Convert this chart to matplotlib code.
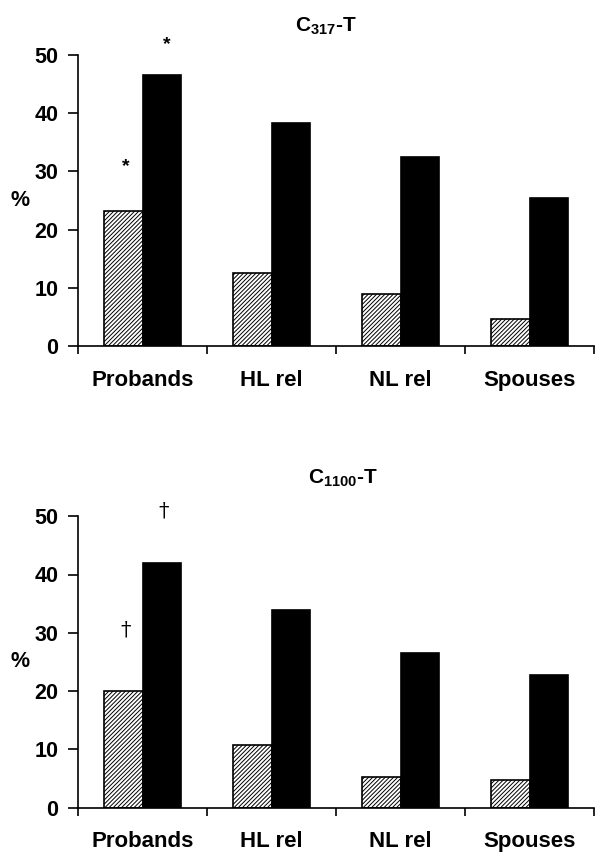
import numpy as np
import matplotlib
matplotlib.use("Agg")
import matplotlib.pyplot as plt

plt.rcParams["font.family"] = ["Liberation Sans", "DejaVu Sans"]
plt.rcParams["font.weight"] = "bold"
plt.rcParams["mathtext.fontset"] = "custom"
plt.rcParams["mathtext.rm"] = "Liberation Sans:bold"
plt.rcParams["mathtext.bf"] = "Liberation Sans:bold"
plt.rcParams["hatch.linewidth"] = 0.7

# ------- DATA ----------
groups = ["Probands", "HL rel", "NL rel", "Spouses"]
c317_hatched  = [23.2, 12.5, 8.9, 4.6]
c317_black    = [46.6, 38.4, 32.5, 25.5]
c1100_hatched = [20.1, 10.7, 5.2, 4.7]
c1100_black   = [41.9, 33.9, 26.5, 22.8]
titles = [r"C$_{317}$-T", r"C$_{1100}$-T"]
marks  = ["*", "\u2020"]

fig = plt.figure(figsize=(5.95, 8.52), dpi=100)
ax_top = fig.add_axes([78/595, 506/852, 516/595, 291/852])
ax_bot = fig.add_axes([78/595, 44.3/852, 516/595, 291.5/852])

x = np.arange(len(groups))
w = 0.295

# title position (axes fraction) per panel
title_pos = [(0.481, 1.10), (0.514, 1.13)]

panels = [(ax_top, c317_hatched, c317_black, titles[0], marks[0], title_pos[0]),
          (ax_bot, c1100_hatched, c1100_black, titles[1], marks[1], title_pos[1])]

for ax, hat, blk, title, mk, tpos in panels:
    ax.bar(x - w/2, hat, width=w, color="white", edgecolor="black",
           hatch="////////", linewidth=1.2)
    ax.bar(x + w/2, blk, width=w, color="black", edgecolor="black", linewidth=1.2)

    ax.set_xlim(-0.5, 3.5)
    ax.set_ylim(0, 50)
    ax.spines["top"].set_visible(False)
    ax.spines["right"].set_visible(False)
    ax.spines["left"].set_linewidth(1.2)
    ax.spines["bottom"].set_linewidth(1.2)

    ax.set_yticks([0, 10, 20, 30, 40, 50])
    ax.tick_params(axis="y", direction="out", length=7, width=1.2,
                   labelsize=15.5, pad=7)
    ax.set_xticks(np.arange(-0.5, 4.0, 1.0))
    ax.set_xticklabels([])
    ax.tick_params(axis="x", which="major", direction="out", length=6, width=1.2)
    ax.set_xticks(x, minor=True)
    ax.set_xticklabels(groups, minor=True, fontsize=16, fontweight="bold")
    ax.tick_params(axis="x", which="minor", length=0, pad=17)

    ax.text(-58/516, 0.5, "%", transform=ax.transAxes, ha="center", va="center",
            fontsize=15.5, fontweight="bold")
    ax.text(tpos[0], tpos[1], title, transform=ax.transAxes,
            ha="center", va="center", fontsize=15, fontweight="bold", clip_on=False)

    if mk == "*":
        ax.text(x[0] - w/2 + 0.02, hat[0] + 7.6, mk, ha="center", va="center",
                fontsize=14, fontweight="bold", clip_on=False)
        ax.text(x[0] + w/2 + 0.04, blk[0] + 5.2, mk, ha="center", va="center",
                fontsize=14, fontweight="bold", clip_on=False)
    else:
        ax.text(x[0] - w/2 + 0.02, hat[0] + 10.4, mk, ha="center", va="center",
                fontsize=15, fontweight="normal", family="DejaVu Serif", clip_on=False)
        ax.text(x[0] + w/2 + 0.02, blk[0] + 9.0, mk, ha="center", va="center",
                fontsize=15, fontweight="normal", family="DejaVu Serif", clip_on=False)

fig.savefig("out.png", dpi=100)
